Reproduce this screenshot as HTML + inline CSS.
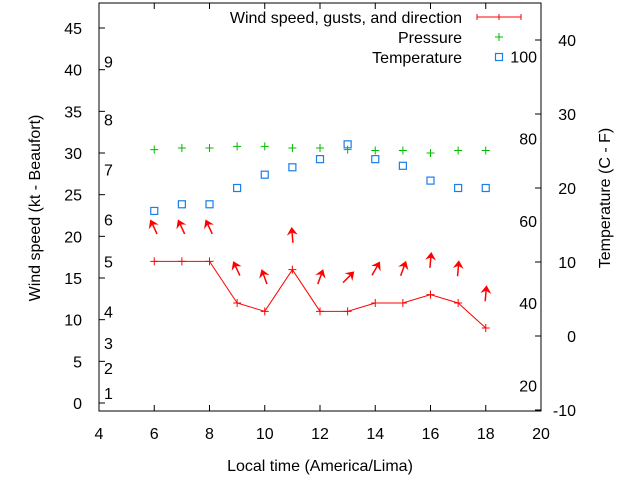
<!DOCTYPE html>
<html><head><meta charset="utf-8"><style>
body{margin:0;background:#fff}
svg text{font-family:"Liberation Sans",sans-serif;font-size:16px;fill:#000}
</style></head><body>
<svg id="c" width="640" height="480" viewBox="0 0 640 480">
<g id="g"></g>
</svg>
<script>
const hours=[6,7,8,9,10,11,12,13,14,15,16,17,18];
const windSpeed=[17,17,17,12,11,16,11,11,12,12,13,12,9];
const gusts=[21,21,21,16,15,20,15,15,16,16,17,16,13];
const windDir=[335,335,335,335,340,355,20,45,30,20,5,5,5];
const pressure=[30.4,30.6,30.6,30.8,30.8,30.6,30.6,30.4,30.3,30.3,30.0,30.3,30.3];
const tempC=[16.9,17.8,17.8,20.0,21.8,22.8,23.9,25.9,23.9,23.0,21.0,20.0,20.0];
const xTicks=[4,6,8,10,12,14,16,18,20];
const yTicks=[0,5,10,15,20,25,30,35,40,45];
const cTicks=[-10,0,10,20,30,40];
const fTicks=[20,40,60,80,100];
const beaufort=[[1,1.2],[2,4.2],[3,7.2],[4,11],[5,17],[6,22],[7,28],[8,34],[9,41]];
const L=99,R=541,T=3,B=411;
const X=v=>L+(v-4)*(R-L)/16;
const Y=v=>403-v*8.333;
const YC=c=>336-c*7.4;
const YF=f=>YC((f-32)*5/9);
const NS="http://www.w3.org/2000/svg",g=document.getElementById('g');
function el(t,a,txt){const e=document.createElementNS(NS,t);for(const k in a)e.setAttribute(k,a[k]);if(txt!==undefined)e.textContent=txt;g.appendChild(e);return e;}
let e;
e=el('rect',{x:L,y:T,width:R-L,height:B-T,fill:'none',stroke:'#000'});


xTicks.forEach(v=>{
 el('line',{x1:X(v),x2:X(v),y1:B,y2:B-6,stroke:'#000'});
 el('line',{x1:X(v),x2:X(v),y1:T,y2:T+6,stroke:'#000'});
 e=el('text',{x:X(v),y:439,'text-anchor':'middle'},v);
 
 
});
yTicks.forEach(v=>{
 el('line',{x1:L,x2:L+6,y1:Y(v),y2:Y(v),stroke:'#000'});
 e=el('text',{x:82,y:Y(v)+6,'text-anchor':'end'},v);
 
 
});
cTicks.forEach(v=>{
 el('line',{x1:R,x2:R-6,y1:YC(v),y2:YC(v),stroke:'#000'});
 e=el('text',{x:576,y:YC(v)+6,'text-anchor':'end'},v);
 
 
});
fTicks.forEach(v=>{
 e=el('text',{x:537,y:YF(v)+6,'text-anchor':'end'},v);
 
 
});
beaufort.forEach(b=>{
 e=el('text',{x:104,y:Y(b[1])+6},b[0]);
 
 
});
e=el('polyline',{points:hours.map((h,i)=>X(h)+','+Y(windSpeed[i])).join(' '),fill:'none',stroke:'#f00'});


hours.forEach((h,i)=>{
 const x=X(h),y=Y(windSpeed[i]);
 el('path',{d:`M${x-4},${y}H${x+4}M${x},${y-4}V${y+4}`,stroke:'#f00'});
 const a=windDir[i]*Math.PI/180,cx=x,cy=Y(gusts[i]),len=13;
 const dx=Math.sin(a),dy=-Math.cos(a);
 const hx=cx+dx*len/2,hy=cy+dy*len/2,tx=cx-dx*len/2,ty=cy-dy*len/2;
 e=el('line',{x1:tx,y1:ty,x2:hx,y2:hy,stroke:'#f00','stroke-width':1.5});
 
 
 const px=-dy,py=dx;
 el('polygon',{points:`${hx+dx*2},${hy+dy*2} ${hx-dx*4+px*4},${hy-dy*4+py*4} ${hx-dx*2},${hy-dy*2} ${hx-dx*4-px*4},${hy-dy*4-py*4}`,fill:'#f00',stroke:'#f00','stroke-width':1});
 const py2=Y(pressure[i]);
 e=el('path',{d:`M${x-4},${py2}H${x+4}M${x},${py2-4}V${py2+4}`,stroke:'#0b0'});
 
 
 e=el('rect',{x:x-3.5,y:YC(tempC[i])-3.5,width:7,height:7,fill:'none',stroke:'#1a7fe8','stroke-width':1.2});
 
 
});
e=el('text',{x:462,y:23,'text-anchor':'end'},'Wind speed, gusts, and direction');


el('path',{d:'M477,17H521M477,14V20M499,14V20M521,14V20',stroke:'#f00'});
e=el('text',{x:462,y:43,'text-anchor':'end'},'Pressure');


el('path',{d:'M495,37H503M499,33V41',stroke:'#0b0'});
e=el('text',{x:462,y:63,'text-anchor':'end'},'Temperature');


el('rect',{x:495.5,y:53.5,width:7,height:7,fill:'none',stroke:'#1a7fe8','stroke-width':1.2});
e=el('text',{x:320,y:471,'text-anchor':'middle'},'Local time (America/Lima)');


e=el('text',{x:0,y:0,'text-anchor':'middle',transform:'translate(40,208) rotate(-90)'},'Wind speed (kt - Beaufort)');


e=el('text',{x:0,y:0,'text-anchor':'middle',transform:'translate(610,198) rotate(-90)'},'Temperature (C - F)');


</script>
</body></html>
